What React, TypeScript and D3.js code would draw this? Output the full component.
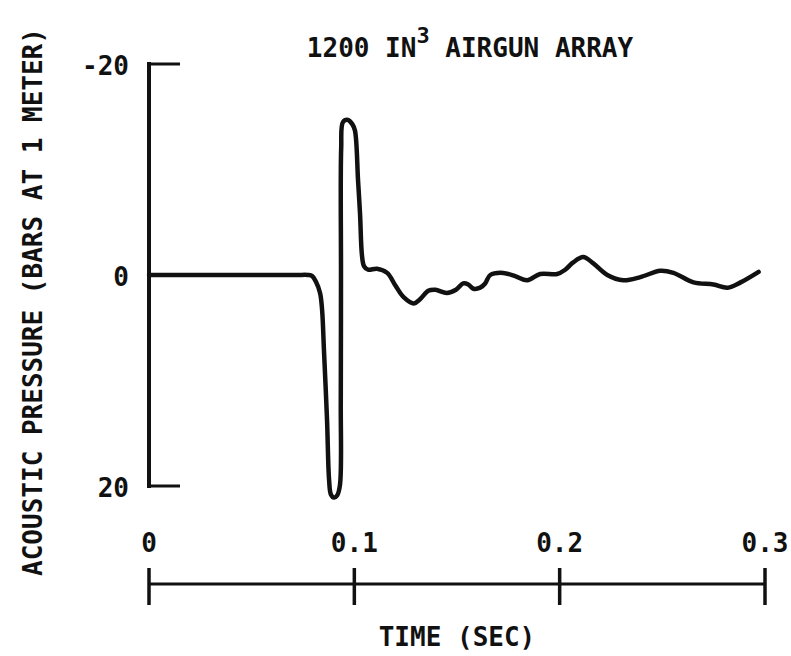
import React, { useEffect, useRef } from 'react'
import * as d3 from 'd3'

// waveform: time (sec) and pressure (bars at 1 m, positive drawn downward)
const timeSec = [0, 0.020, 0.040, 0.060, 0.072, 0.0775, 0.0795, 0.0812, 0.0833, 0.0843, 0.0852,
  0.0867, 0.0877, 0.0886, 0.0901, 0.0916, 0.0930, 0.0934, 0.0935, 0.0936, 0.0945,
  0.0969, 0.0990, 0.1003, 0.1018, 0.1028, 0.1037, 0.1047, 0.1067, 0.1110, 0.1160,
  0.1200, 0.1240, 0.1290, 0.1320, 0.1360, 0.1395, 0.1450, 0.1495, 0.1530, 0.1555,
  0.1580, 0.1613, 0.1637, 0.1662, 0.1725, 0.1783, 0.1842, 0.1905, 0.1988, 0.2027,
  0.2066, 0.2115, 0.2164, 0.2232, 0.2310, 0.2393, 0.2490, 0.2554, 0.2652, 0.2749,
  0.2818, 0.2881, 0.2969]
const pressure = [0, 0, 0, 0, 0, 0, 0.1, 0.6, 1.7, 3.3, 7.1,
  13.7, 19.4, 20.8, 21.1, 20.9, 19.9, 12, 0, -12, -14.5,
  -14.7, -14.3, -13.7, -9.0, -5.7, -1.9, -0.85, -0.5, -0.6, -0.2,
  1.0, 2.1, 2.7, 2.3, 1.5, 1.4, 1.7, 1.4, 0.8, 0.9,
  1.3, 1.2, 0.8, 0.0, -0.2, 0.1, 0.5, -0.1, -0.1, -0.5,
  -1.2, -1.7, -1.1, 0.0, 0.5, 0.2, -0.4, -0.2, 0.7, 0.9,
  1.2, 0.7, -0.3]

const yTicks = [-20, 0, 20]
const yTickMarks = [-20, 20]
const xTicks = [0, 0.1, 0.2, 0.3]
const xTickLabels = ['0', '0.1', '0.2', '0.3']

const titleMain = '1200 IN'
const titleSup = '3'
const titleRest = ' AIRGUN ARRAY'
const yLabel = 'ACOUSTIC PRESSURE (BARS AT 1 METER)'
const xLabel = 'TIME (SEC)'

const FONT = '"DejaVu Sans Mono", monospace'

export default function App() {
  const ref = useRef<HTMLDivElement>(null)

  useEffect(() => {
    const root = d3.select(ref.current)
    root.selectAll('*').remove()

    const W = 791, H = 656
    const svg = root.append('svg')
      .attr('width', W)
      .attr('height', H)
      .attr('viewBox', `0 0 ${W} ${H}`)
      .style('position', 'absolute')
      .style('left', '0px')
      .style('top', '0px')
      .style('background', '#fff')

    var xScale = d3.scaleLinear().domain([0, 0.3]).range([149, 765])
    var yScale = d3.scaleLinear().domain([-20, 20]).range([64, 486])
    var axisY = 584

    // vertical pressure axis with inward end ticks
    var x0 = xScale(0)
    svg.append('line')
      .attr('x1', x0).attr('x2', x0)
      .attr('y1', yScale(-20)).attr('y2', yScale(20))
      .attr('stroke', '#111').attr('stroke-width', 4)
      .attr('stroke-linecap', 'square')
    svg.selectAll('line.ytick')
      .data(yTickMarks)
      .enter().append('line')
        .attr('class', 'ytick')
        .attr('x1', x0).attr('x2', x0 + 31)
        .attr('y1', (d) => yScale(d)).attr('y2', (d) => yScale(d))
        .attr('stroke', '#111').attr('stroke-width', 3)
    svg.selectAll('text.ylab')
      .data(yTicks)
      .enter().append('text')
        .attr('class', 'ylab')
        .attr('x', x0 - 20)
        .attr('y', (d) => yScale(d) + 11)
        .attr('text-anchor', 'end')
        .attr('font-family', FONT)
        .attr('font-weight', 'bold')
        .attr('font-size', 26)
        .attr('fill', '#111')
        .text((d) => d)

    // waveform
    const pts: [number, number][] = timeSec.map((t, i) => [t, pressure[i]])
    const line = d3.line<[number, number]>()
      .x((d) => xScale(d[0]))
      .y((d) => yScale(d[1]))
      .curve(d3.curveCatmullRom.alpha(0.5))
    svg.append('path')
      .attr('d', line(pts))
      .attr('fill', 'none')
      .attr('stroke', '#111')
      .attr('stroke-width', 4.5)
      .attr('stroke-linejoin', 'round')
      .attr('stroke-linecap', 'round')

    // separate time axis below
    svg.append('line')
      .attr('x1', xScale(0)).attr('x2', xScale(0.3))
      .attr('y1', axisY).attr('y2', axisY)
      .attr('stroke', '#111').attr('stroke-width', 3)
    svg.selectAll('line.xtick')
      .data(xTicks)
      .enter().append('line')
        .attr('class', 'xtick')
        .attr('x1', (d) => xScale(d)).attr('x2', (d) => xScale(d))
        .attr('y1', axisY - 16).attr('y2', axisY + 21)
        .attr('stroke', '#111').attr('stroke-width', 3.5)
    svg.selectAll('text.xlab')
      .data(xTicks)
      .enter().append('text')
        .attr('class', 'xlab')
        .attr('x', (d) => xScale(d))
        .attr('y', axisY - 32)
        .attr('text-anchor', 'middle')
        .attr('font-family', FONT)
        .attr('font-weight', 'bold')
        .attr('font-size', 26)
        .attr('fill', '#111')
        .text((d, i) => xTickLabels[i])

    svg.append('text')
      .attr('x', xScale(0.15))
      .attr('y', 646)
      .attr('text-anchor', 'middle')
      .attr('font-family', FONT)
      .attr('font-weight', 'bold')
      .attr('font-size', 26)
      .attr('fill', '#111')
      .text(xLabel)

    svg.append('text')
      .attr('transform', 'translate(42, 302) rotate(-90)')
      .attr('text-anchor', 'middle')
      .attr('font-family', FONT)
      .attr('font-weight', 'bold')
      .attr('font-size', 26)
      .attr('fill', '#111')
      .text(yLabel)

    // title with superscript
    const title = svg.append('text')
      .attr('x', 470)
      .attr('y', 57)
      .attr('text-anchor', 'middle')
      .attr('font-family', FONT)
      .attr('font-weight', 'bold')
      .attr('font-size', 26)
      .attr('fill', '#111')
    title.append('tspan').text(titleMain)
    title.append('tspan').attr('dy', -14).attr('font-size', 22).text(titleSup)
    title.append('tspan').attr('dy', 14).text(titleRest)
  }, [])

  return <div ref={ref} style={{ width: 791, height: 656 }}></div>
}
